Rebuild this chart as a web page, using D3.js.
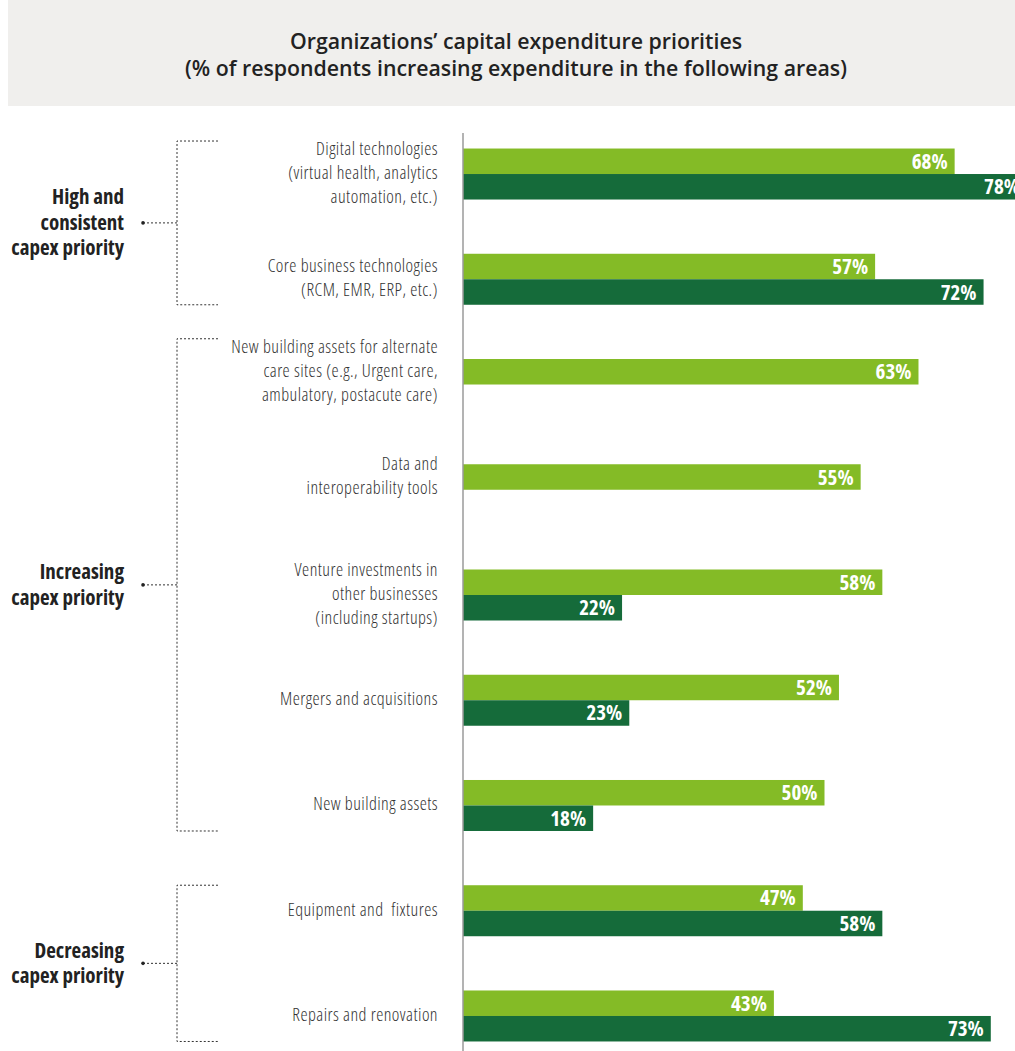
<!DOCTYPE html>
<html>
<head>
<meta charset="utf-8">
<script src="https://cdn.jsdelivr.net/npm/d3@7"></script>
<style>
  html, body { margin: 0; padding: 0; background: #fff; }
  svg { display: block; font-family: "Open Sans", "Noto Sans", sans-serif; }
  .cond { font-stretch: 75%; }
  .lab { font-stretch: 75%; letter-spacing: 0.45px; white-space: pre; }
</style>
</head>
<body>
<div id="chart"></div>
<script>
// data
const categories = [
    "Digital technologies",
    "Core business technologies",
    "New building assets for alternate care sites",
    "Data and interoperability tools",
    "Venture investments in other businesses",
    "Mergers and acquisitions",
    "New building assets",
    "Equipment and fixtures",
    "Repairs and renovation"
];
const categoryLines = [
    ["Digital technologies", "(virtual health, analytics", "automation, etc.)"],
    ["Core business technologies", "(RCM, EMR, ERP, etc.)"],
    ["New building assets for alternate", "care sites (e.g., Urgent care,", "ambulatory, postacute care)"],
    ["Data and", "interoperability tools"],
    ["Venture investments in", "other businesses", "(including startups)"],
    ["Mergers and acquisitions"],
    ["New building assets"],
    ["Equipment and  fixtures"],
    ["Repairs and renovation"]
];
const seriesKeys = ["first", "second"];
const firstValues = [68, 57, 63, 55, 58, 52, 50, 47, 43];
const secondValues = [78, 72, null, null, 22, 23, 18, 58, 73];

const groupLines = [
    ["High and", "consistent", "capex priority"],
    ["Increasing", "capex priority"],
    ["Decreasing", "capex priority"]
];
// first and last category index of each group
const groupRanges = [[0, 1], [2, 6], [7, 8]];

const titleLines = [
    "Organizations\u2019 capital expenditure priorities",
    "(% of respondents increasing expenditure in the following areas)"
];

const colors = { first: "#84bb26", second: "#156b3a" };

// layout
const W = 1015, H = 1051;
const axisX = 463;

const svg = d3.select("#chart").append("svg")
    .attr("width", W)
    .attr("height", H);

// title box
svg.append("rect")
    .attr("x", 8).attr("y", 0)
    .attr("width", W - 8).attr("height", 106)
    .attr("fill", "#f0efed");

svg.append("g").selectAll("text")
    .data(titleLines)
    .join("text")
    .attr("x", 516)
    .attr("y", (d, i) => 49 + i * 27)
    .attr("text-anchor", "middle")
    .attr("font-size", 21.3)
    .attr("font-weight", 600)
    .attr("fill", "#222")
    .text(d => d);

// scales
const x = d3.scaleLinear().domain([0, 100]).range([axisX, axisX + 723]);
const y = d3.scaleBand().domain(categories).range([121.4, 1068.6]).paddingInner(0);
const yInner = d3.scaleBand().domain(seriesKeys).range([-25.5, 25.5]);

const rows = categories.map((c, i) => {
    const vals = [
        { key: "first", value: firstValues[i] },
        { key: "second", value: secondValues[i] }
    ].filter(v => v.value != null);
    const center = y(c) + y.bandwidth() / 2;
    // label centred on the bars actually drawn
    const top = center + yInner(vals[0].key);
    const bottom = center + yInner(vals[vals.length - 1].key) + yInner.bandwidth();
    return { cat: c, lines: categoryLines[i], vals, center, top, bottom, mid: (top + bottom) / 2 };
});

// bars
const rowG = svg.append("g").selectAll("g")
    .data(rows)
    .join("g")
    .attr("transform", d => `translate(0,${d.center})`);

rowG.selectAll("rect")
    .data(d => d.vals)
    .join("rect")
    .attr("x", x(0))
    .attr("y", d => yInner(d.key))
    .attr("width", d => x(d.value) - x(0))
    .attr("height", yInner.bandwidth())
    .attr("fill", d => colors[d.key]);

rowG.selectAll("text.val")
    .data(d => d.vals)
    .join("text")
    .attr("class", "val cond")
    .attr("x", d => x(d.value) - 7)
    .attr("y", d => yInner(d.key) + yInner.bandwidth() / 2 + 7.5)
    .attr("text-anchor", "end")
    .attr("font-size", 21)
    .attr("font-weight", 700)
    .attr("fill", "#fff")
    .text(d => d.value + "%");

// vertical axis line
svg.append("line")
    .attr("x1", axisX).attr("x2", axisX)
    .attr("y1", 133).attr("y2", H)
    .attr("stroke", "#9a9a9a")
    .attr("stroke-width", 1.5);

// category labels
const lh = 24;
svg.append("g").selectAll("text")
    .data(rows)
    .join("text")
    .attr("class", "lab")
    .attr("text-anchor", "end")
    .attr("font-size", 18)
    .attr("font-weight", 300)
    .attr("fill", "#333")
    .each(function (d) {
        const n = d.lines.length;
        d3.select(this).selectAll("tspan")
            .data(d.lines)
            .join("tspan")
            .attr("x", 438)
            .attr("y", (l, j) => d.mid + (j - (n - 1) / 2) * lh + 5)
            .text(l => l);
        d.labelTop = d.mid - (n / 2) * lh + 3;
    });

// group brackets
const groups = groupRanges.map((r, i) => {
    const first = rows[r[0]], last = rows[r[1]];
    const top = Math.min(first.top, first.labelTop);
    const bottom = last.bottom;
    return { lines: groupLines[i], top, bottom, mid: (top + bottom) / 2 };
});

const bx = 177, bEnd = 218, dotX = 143;
const gG = svg.append("g").selectAll("g")
    .data(groups)
    .join("g");

gG.append("path")
    .attr("d", d => `M${bEnd},${d.top}H${bx}V${d.bottom}H${bEnd}M${bx},${d.mid}H${dotX}`)
    .attr("fill", "none")
    .attr("stroke", "#333")
    .attr("stroke-width", 1)
    .attr("stroke-dasharray", "2,2");

gG.append("circle")
    .attr("cx", dotX).attr("cy", d => d.mid)
    .attr("r", 1.8)
    .attr("fill", "#222");

gG.append("text")
    .attr("class", "cond")
    .attr("text-anchor", "end")
    .attr("font-size", 21)
    .attr("font-weight", 700)
    .attr("fill", "#222")
    .each(function (d) {
        const n = d.lines.length;
        d3.select(this).selectAll("tspan")
            .data(d.lines)
            .join("tspan")
            .attr("x", 124)
            .attr("y", (l, j) => d.mid + (j - (n - 1) / 2) * 25.5 + 7)
            .text(l => l);
    });
</script>
</body>
</html>
